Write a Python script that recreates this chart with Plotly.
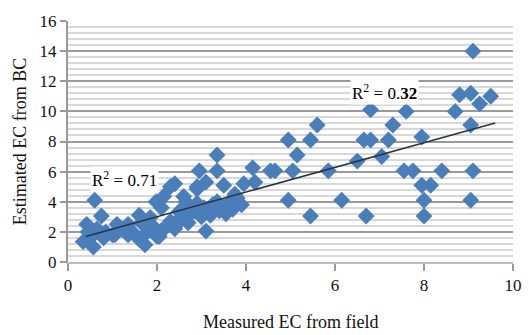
import plotly.graph_objects as go

# Measured EC (x) and Estimated EC from BC (y)
measured_ec = [
    9.1, 8.8, 9.05, 9.25, 9.5, 8.7, 9.05, 7.6, 7.7, 7.3, 7.2, 7.95, 6.8, 5.6,
    4.95, 5.45, 6.65, 6.8, 5.15, 6.5, 7.05, 3.35, 4.65, 5.05, 5.85, 7.55, 7.75,
    8.4, 9.1, 7.95, 8.15, 8.0, 9.05, 8.0, 6.7, 5.45, 4.95, 6.15, 4.15, 3.35,
    2.95, 3.5, 3.95, 4.2, 3.1, 2.9, 2.4, 2.3, 3.75, 3.8, 3.1, 2.15, 2.6, 0.6,
    0.75, 0.42, 1.1, 1.35, 1.6, 1.85, 1.98, 2.1, 0.34, 0.57, 1.05, 1.35, 1.73,
    2.05, 2.2, 2.3, 2.45, 2.55, 2.7, 2.75, 2.85, 2.9, 3.0, 3.05, 3.2, 3.25,
    3.35, 3.4, 3.5, 3.55, 3.6, 3.7, 3.8, 3.9, 2.5, 2.65, 2.4, 2.1, 2.0, 1.9,
    1.75, 1.6, 1.45, 1.2, 1.0, 0.8, 0.5, 0.45, 0.65, 0.85, 1.65, 4.55, 2.9,
]
estimated_ec = [
    14.0, 11.1, 11.2, 10.5, 11.0, 10.0, 9.1, 10.0, 11.0, 9.1, 8.1, 8.3, 10.1, 9.1,
    8.1, 8.1, 8.1, 8.1, 7.1, 6.7, 7.0, 7.1, 6.05, 6.05, 6.05, 6.05, 6.05,
    6.05, 6.05, 5.1, 5.1, 4.1, 4.1, 3.05, 3.05, 3.05, 4.1, 4.1, 6.25, 6.05,
    6.05, 5.1, 5.2, 5.3, 5.3, 5.0, 5.2, 5.0, 4.5, 4.25, 2.05, 4.35, 4.35, 4.1,
    3.05, 2.5, 2.5, 2.5, 3.1, 2.95, 4.0, 3.6, 1.35, 1.0, 1.8, 1.8, 1.15,
    1.7, 2.3, 2.7, 2.5, 3.0, 2.6, 3.2, 3.4, 3.9, 3.0, 3.6, 3.1, 3.8,
    4.0, 3.4, 3.7, 3.2, 3.9, 3.5, 4.0, 3.8, 3.35, 4.0, 2.2, 2.1, 1.7, 2.4,
    1.9, 1.5, 2.0, 2.2, 1.8, 1.6, 1.6, 2.0, 2.2, 2.0, 2.6, 6.05, 4.85,
]

# Linear trend line
trend_slope = 0.82
trend_intercept = 1.36
trend_x = [0.4, 9.6]
trend_y = [trend_slope * v + trend_intercept for v in trend_x]

x_ticks = [0, 2, 4, 6, 8, 10]
y_ticks = [0, 2, 4, 6, 8, 10, 12, 14, 16]

FONT = "Liberation Serif, Times New Roman, serif"

fig = go.Figure()
fig.add_trace(go.Scatter(
    x=measured_ec, y=estimated_ec, mode="markers",
    marker=dict(symbol="diamond", size=13, color="#4A7EBB", line=dict(width=0)),
    showlegend=False, hoverinfo="x+y",
))
fig.add_trace(go.Scatter(
    x=trend_x, y=trend_y, mode="lines",
    line=dict(color="#2b3340", width=1.5), showlegend=False,
))

# white patches behind labels (as in the picture)
for (x0, x1, y0, y1) in [(0.72, 1.73, 7.18, 7.95), (5.57, 6.34, 10.7, 12.29), (7.46, 8.02, 11.84, 13.25)]:
    fig.add_shape(type="rect", x0=x0, x1=x1, y0=y0, y1=y1, xref="x", yref="y",
                  fillcolor="white", line=dict(width=0), layer="below")

fig.add_annotation(x=1.28, y=5.52, text="R<sup>2</sup> = 0.71", showarrow=False,
                   font=dict(family=FONT, size=17, color="black"), bgcolor="white")
fig.add_annotation(x=7.12, y=11.27, text="R<sup>2</sup> = 0.<b>32</b>", showarrow=False,
                   font=dict(family=FONT, size=17, color="black"), bgcolor="white")
# x-axis title
fig.add_annotation(x=0.5, y=0, xref="paper", yref="paper", yshift=-60,
                   text="Measured EC from field", showarrow=False,
                   xanchor="center", yanchor="middle",
                   font=dict(family=FONT, size=18, color="#111"))

fig.update_layout(
    width=529, height=335,
    margin=dict(l=68, r=16, t=12, b=73),
    paper_bgcolor="white", plot_bgcolor="white",
    font=dict(family=FONT, size=17, color="#111"),
    xaxis=dict(
        range=[0, 10], tickvals=x_ticks, ticks="outside", ticklen=7, tickwidth=2,
        tickcolor="#999", showline=True, linecolor="#bbb", linewidth=1.5,
        showgrid=False, zeroline=False, automargin=False,
    ),
    yaxis=dict(
        range=[0, 16], tickvals=y_ticks, ticks="outside", ticklen=6, tickwidth=2,
        tickcolor="#999", showline=True, linecolor="#999", linewidth=2,
        showgrid=True, gridcolor="#9a9a9a", gridwidth=1.5, zeroline=False, automargin=True,
        minor=dict(dtick=0.4, showgrid=True, gridcolor="#d8d8d8", gridwidth=2, ticks=""),
        title=dict(text="Estimated EC from BC", font=dict(family=FONT, size=18), standoff=8),
    ),
)

fig.write_html("out.html", config={"displayModeBar": False},
               post_script="document.body.style.margin='0';document.body.style.padding='0';")
